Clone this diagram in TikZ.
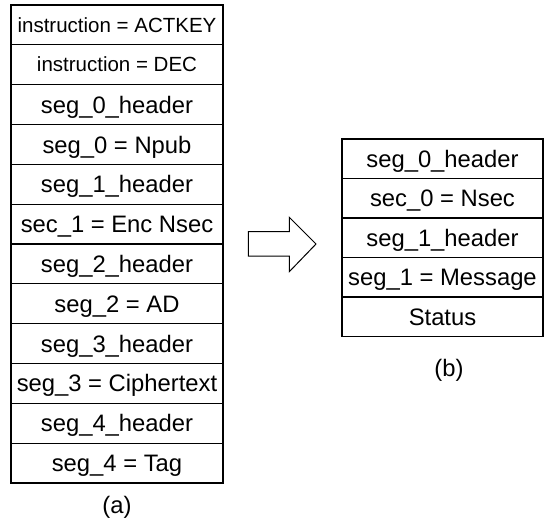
\documentclass[tikz,border=0pt]{standalone}
\usepackage{fontspec}
\setmainfont{Liberation Sans}
\begin{document}
\begin{tikzpicture}[x=1pt,y=-1pt,
  cell/.style={draw, line width=1.1pt, inner sep=0pt, anchor=center,
    font=\fontsize{23.8}{28}\selectfont, text height=17.2pt, text depth=0pt},
  lcell/.style={cell, minimum width=212pt, minimum height=39.83pt},
  rcell/.style={cell, minimum width=201pt, minimum height=39.5pt},
  small/.style={font=\fontsize{20.5}{24}\selectfont, text height=14.2pt},
  caption/.style={font=\fontsize{23.8}{28}\selectfont, inner sep=0pt},
  bigarrow/.style={draw, line width=1pt, line join=miter}]
\useasboundingbox (0,0) rectangle (544,531);
% left stack (a)
\foreach \t [count=\i from 0] in {%
  {instruction = ACTKEY},{instruction = DEC},{seg\_0\_header},{seg\_0 = Npub},%
  {seg\_1\_header},{sec\_1 = Enc Nsec},{seg\_2\_header},{seg\_2 = AD},%
  {seg\_3\_header},{seg\_3 = Ciphertext},{seg\_4\_header},{seg\_4 = Tag}}
  {\ifnum\i<2
     \node[lcell, small] (a\i) at (117, {5+39.83*(\i+0.5)}) {\t};
   \else
     \node[lcell] (a\i) at (117, {5+39.83*(\i+0.5)}) {\t};
   \fi}
\node[caption] (capa) at (117,507) {(a)};
% right stack (b)
\foreach \t [count=\i from 0] in {%
  {seg\_0\_header},{sec\_0 = Nsec},{seg\_1\_header},{seg\_1 = Message},{Status}}
  {\node[rcell] (b\i) at (442.5, {139+39.5*(\i+0.5)}) {\t};}
\node[caption] (capb) at (449,370) {(b)};
% block arrow
\draw[bigarrow] (248.3,231.7) -- (289.3,231.7) -- (289.3,217.3) -- (316,244)
  -- (289.3,271.7) -- (289.3,256) -- (248.3,256) -- cycle;
\end{tikzpicture}
\end{document}
